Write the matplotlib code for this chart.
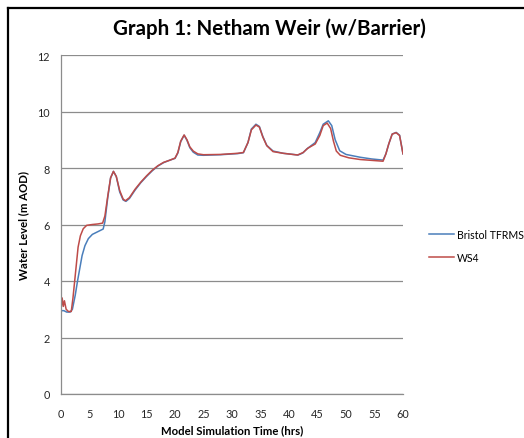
import matplotlib
matplotlib.use('Agg')
import matplotlib.pyplot as plt
from matplotlib.lines import Line2D

plt.rcParams['font.family'] = ['Lato', 'DejaVu Sans']

# hours / water level (m AOD)
ws4_t = [0, 0.2, 0.4, 0.6, 0.9, 1.3, 1.8, 2.1, 2.4, 2.7, 3.0, 3.4, 3.9, 4.5, 5.5, 6.5,
         7.3, 7.7, 8.2, 8.7, 9.2, 9.7, 10.3, 10.9, 11.3, 12.0, 13.0, 14.0, 15.0, 16.0,
         17.0, 18.0, 19.0, 20.0, 20.5, 21.0, 21.6, 22.1, 22.6, 23.2, 24.0, 25.0, 28.0,
         31.0, 32.0, 32.8, 33.4, 34.2, 34.8, 35.4, 36.1, 37.2, 39.0, 41.5, 42.5, 43.3,
         44.6, 45.4, 46.0, 46.7, 47.3, 47.8, 48.3, 49.0, 50.5, 52.5, 54.5, 56.5, 57.0,
         57.5, 58.1, 58.8, 59.4, 60.0]
ws4_h = [3.0, 3.4, 3.1, 3.3, 3.0, 2.92, 2.92, 3.4, 4.0, 4.6, 5.2, 5.6, 5.85, 5.97, 6.0, 6.02,
         6.05, 6.3, 7.0, 7.65, 7.88, 7.7, 7.2, 6.9, 6.84, 6.95, 7.25, 7.5, 7.72, 7.92,
         8.08, 8.2, 8.27, 8.35, 8.55, 8.95, 9.17, 9.0, 8.75, 8.6, 8.5, 8.47, 8.48,
         8.52, 8.55, 8.9, 9.35, 9.52, 9.45, 9.1, 8.79, 8.58, 8.52, 8.46, 8.55, 8.7,
         8.85, 9.15, 9.5, 9.59, 9.4, 8.95, 8.6, 8.45, 8.36, 8.3, 8.27, 8.24, 8.5,
         8.85, 9.2, 9.25, 9.15, 8.5]

bristol_t = [0, 0.5, 1.0, 1.6, 2.0, 2.5, 2.9, 3.3, 3.7, 4.2, 4.8, 5.5, 6.5, 7.4, 7.7, 8.2,
             8.7, 9.2, 9.7, 10.3, 10.9, 11.4, 12.0, 13.0, 14.0, 15.0, 16.0, 17.0, 18.0,
             19.0, 20.0, 20.5, 21.0, 21.6, 22.1, 22.6, 23.2, 24.0, 25.0, 28.0, 31.0, 32.0,
             32.8, 33.4, 34.2, 34.8, 35.4, 36.1, 37.2, 39.0, 41.6, 42.4, 43.1, 44.6, 45.4,
             46.0, 46.9, 47.5, 48.1, 48.9, 50.0, 52.5, 54.5, 56.5, 57.0, 57.5, 58.1, 58.8,
             59.4, 60.0]
bristol_h = [2.95, 2.95, 2.9, 2.9, 3.0, 3.5, 4.0, 4.45, 4.9, 5.25, 5.5, 5.65, 5.75, 5.84, 6.1, 6.95,
             7.65, 7.88, 7.7, 7.15, 6.87, 6.82, 6.92, 7.22, 7.48, 7.7, 7.9, 8.07, 8.19,
             8.27, 8.34, 8.53, 8.93, 9.16, 8.98, 8.72, 8.56, 8.46, 8.45, 8.47, 8.51, 8.54,
             8.9, 9.38, 9.55, 9.47, 9.12, 8.8, 8.6, 8.52, 8.46, 8.53, 8.67, 8.9, 9.25,
             9.55, 9.67, 9.5, 9.0, 8.61, 8.48, 8.38, 8.32, 8.28, 8.5, 8.85, 9.2, 9.26,
             9.16, 8.5]

fig = plt.figure(figsize=(5.24, 4.39), dpi=100)
ax = fig.add_axes([61/524, 1-395/439, (403-61)/524, (395-56)/439])

ax.plot(bristol_t, bristol_h, color='#4a7ebb', lw=1.1, label='Bristol TFRMS')
ax.plot(ws4_t, ws4_h, color='#be4b48', lw=1.1, label='WS4')

ax.set_xlim(0, 60)
ax.set_ylim(0, 12)
ax.set_xticks(range(0, 61, 5))
ax.set_yticks(range(0, 13, 2))
ax.grid(axis='y', color='#8c8c8c', lw=0.9)
ax.set_axisbelow(True)
for s in ['top', 'right']:
    ax.spines[s].set_visible(False)
for s in ['left', 'bottom']:
    ax.spines[s].set_color('#8c8c8c')
    ax.spines[s].set_linewidth(0.9)
ax.tick_params(axis='x', length=0, labelsize=7.8, colors='#262626', pad=10)
ax.tick_params(axis='y', length=0, labelsize=7.8, colors='#262626', pad=8)

ax.set_xlabel('Model Simulation Time (hrs)', fontsize=8.2, fontweight='bold', labelpad=3.5)
ax.set_ylabel('Water Level (m AOD)', fontsize=8.2, fontweight='bold', labelpad=6)

fig.text(269/524, 1-29/439, 'Graph 1: Netham Weir (w/Barrier)', fontsize=14.8,
         fontweight='bold', ha='center', va='center')

ax.legend(loc='center left', bbox_to_anchor=(1.07, 0.437), frameon=False,
          fontsize=7.6, handlelength=2.4, labelspacing=1.2, handletextpad=0.25,
          borderaxespad=0, borderpad=0.2)

# chart frame (left and top edges visible)
fig.add_artist(Line2D([8/524, 8/524], [0, 1-9/439], color='black', lw=1.6,
                      transform=fig.transFigure))
fig.add_artist(Line2D([8/524, 1], [1-9/439, 1-9/439], color='black', lw=1.6,
                      transform=fig.transFigure))

fig.savefig('out.png', dpi=100)
